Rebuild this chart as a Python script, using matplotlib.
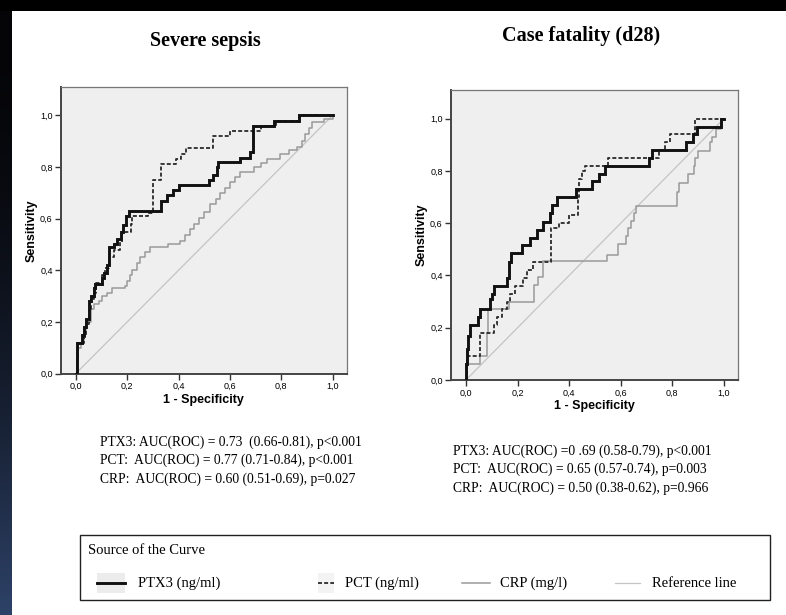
import matplotlib.pyplot as plt
import numpy as np
from matplotlib.lines import Line2D
from matplotlib.patches import Rectangle

# ROC curves, stored as the corners after each vertical step: (1 - specificity, sensitivity)
sepsis_ptx3_fpr = [0, 0.005, 0.024, 0.03, 0.04, 0.05, 0.06, 0.07, 0.075, 0.10, 0.11, 0.12, 0.13,
                   0.15, 0.16, 0.175, 0.185, 0.195, 0.205, 0.33, 0.355, 0.38, 0.40, 0.52, 0.535,
                   0.55, 0.555, 0.64, 0.68, 0.69, 0.77, 0.87, 1.0]
sepsis_ptx3_tpr = [0, 0.12, 0.15, 0.18, 0.21, 0.28, 0.30, 0.33, 0.345, 0.37, 0.39, 0.42, 0.49,
                   0.50, 0.52, 0.55, 0.575, 0.61, 0.63, 0.67, 0.69, 0.71, 0.73, 0.75, 0.77,
                   0.80, 0.82, 0.835, 0.86, 0.96, 0.98, 1.0, 1.0]

sepsis_pct_fpr = [0, 0.005, 0.01, 0.03, 0.04, 0.05, 0.06, 0.07, 0.08, 0.10, 0.115, 0.13, 0.15,
                  0.17, 0.18, 0.215, 0.22, 0.28, 0.30, 0.33, 0.39, 0.41, 0.43, 0.535, 0.60,
                  0.72, 0.78, 0.87, 1.0]
sepsis_pct_tpr = [0, 0.06, 0.12, 0.14, 0.19, 0.25, 0.29, 0.31, 0.35, 0.38, 0.41, 0.45, 0.48,
                  0.51, 0.55, 0.58, 0.61, 0.62, 0.75, 0.81, 0.83, 0.85, 0.875, 0.92, 0.94,
                  0.96, 0.98, 1.0, 1.0]

sepsis_crp_fpr = [0, 0.005, 0.02, 0.03, 0.04, 0.06, 0.07, 0.09, 0.10, 0.12, 0.14, 0.19, 0.20,
                  0.21, 0.22, 0.24, 0.25, 0.27, 0.29, 0.36, 0.407, 0.425, 0.445, 0.46, 0.478,
                  0.50, 0.524, 0.545, 0.563, 0.58, 0.602, 0.62, 0.641, 0.693, 0.72, 0.745,
                  0.797, 0.83, 0.861, 0.88, 0.894, 0.91, 0.92, 0.966, 1.0]
sepsis_crp_tpr = [0, 0.10, 0.12, 0.16, 0.20, 0.25, 0.27, 0.28, 0.30, 0.31, 0.33, 0.34, 0.36,
                  0.38, 0.40, 0.43, 0.45, 0.47, 0.49, 0.50, 0.515, 0.535, 0.558, 0.58, 0.604,
                  0.625, 0.655, 0.675, 0.698, 0.72, 0.74, 0.76, 0.78, 0.80, 0.815, 0.83,
                  0.85, 0.865, 0.876, 0.90, 0.928, 0.95, 0.973, 0.986, 1.0]

fatal_ptx3_fpr = [0, 0.002, 0.005, 0.008, 0.015, 0.048, 0.055, 0.094, 0.10, 0.11, 0.158, 0.165,
                  0.175, 0.216, 0.25, 0.275, 0.30, 0.325, 0.335, 0.355, 0.425, 0.49, 0.515,
                  0.54, 0.71, 0.72, 0.853, 0.88, 0.895, 0.99, 1.0]
fatal_ptx3_tpr = [0, 0.06, 0.12, 0.17, 0.21, 0.24, 0.27, 0.31, 0.33, 0.36, 0.39, 0.45,
                  0.485, 0.515, 0.545, 0.575, 0.605, 0.64, 0.67, 0.70, 0.73, 0.76, 0.79,
                  0.82, 0.85, 0.88, 0.91, 0.94, 0.97, 1.0, 1.0]

fatal_pct_fpr = [0, 0.005, 0.055, 0.11, 0.12, 0.14, 0.16, 0.17, 0.19, 0.22, 0.235, 0.26, 0.33,
                 0.36, 0.40, 0.435, 0.44, 0.45, 0.46, 0.55, 0.75, 0.77, 0.79, 0.89, 1.0]
fatal_pct_tpr = [0, 0.09, 0.18, 0.21, 0.24, 0.27, 0.30, 0.33, 0.36, 0.39, 0.42, 0.45, 0.58,
                 0.60, 0.63, 0.70, 0.77, 0.80, 0.82, 0.85, 0.88, 0.91, 0.94, 1.0, 1.0]

fatal_crp_fpr = [0, 0.005, 0.054, 0.08, 0.085, 0.165, 0.262, 0.28, 0.30, 0.548, 0.59, 0.62,
                 0.63, 0.64, 0.65, 0.66, 0.82, 0.825, 0.86, 0.885, 0.89, 0.90, 0.945, 0.955,
                 0.97, 0.99, 1.0]
fatal_crp_tpr = [0, 0.06, 0.09, 0.18, 0.27, 0.30, 0.364, 0.395, 0.456, 0.48, 0.52, 0.55,
                 0.58, 0.61, 0.64, 0.667, 0.72, 0.755, 0.79, 0.82, 0.85, 0.875, 0.91, 0.93,
                 0.96, 1.0, 1.0]

panel_titles = ['Severe sepsis', 'Case fatality (d28)']
auc_lines = [
    ['PTX3: AUC(ROC) = 0.73  (0.66-0.81), p<0.001',
     'PCT:  AUC(ROC) = 0.77 (0.71-0.84), p<0.001',
     'CRP:  AUC(ROC) = 0.60 (0.51-0.69), p=0.027'],
    ['PTX3: AUC(ROC) =0 .69 (0.58-0.79), p<0.001',
     'PCT:  AUC(ROC) = 0.65 (0.57-0.74), p=0.003',
     'CRP:  AUC(ROC) = 0.50 (0.38-0.62), p=0.966'],
]
legend_title = 'Source of the Curve'
legend_labels = ['PTX3 (ng/ml)', 'PCT (ng/ml)', 'CRP (mg/l)', 'Reference line']
ticks = [0, 0.2, 0.4, 0.6, 0.8, 1.0]
tick_labels = ['0,0', '0,2', '0,4', '0,6', '0,8', '1,0']

SERIF = 'Liberation Serif'
SANS = 'Liberation Sans'
W, H = 786, 615

ptx3_style = dict(color='#111111', lw=2.1, solid_joinstyle='miter')
pct_style = dict(color='#2a2a2a', lw=1.3, dashes=(2.2, 1.2))
crp_style = dict(color='#9a9a9a', lw=1.1)
ref_style = dict(color='#c4c4c4', lw=0.9)


def fx(px):
    return px / W


def fy(py):
    return 1 - py / H


fig = plt.figure(figsize=(W / 100, H / 100), dpi=100)
fig.patch.set_facecolor('white')

# dark page edge at the top and a shaded strip down the left side
fig.patches.append(Rectangle((0, fy(11)), 1, 11 / H, transform=fig.transFigure,
                             facecolor='black', edgecolor='none', zorder=0))
edge_ax = fig.add_axes([0, 0, fx(12), 1])
grad = np.linspace(0, 1, 256)
edge_cols = np.zeros((256, 1, 3))
edge_cols[:, 0, 0] = 0.02 + 0.16 * grad ** 2
edge_cols[:, 0, 1] = 0.02 + 0.24 * grad ** 2
edge_cols[:, 0, 2] = 0.03 + 0.38 * grad ** 2
edge_ax.imshow(edge_cols, aspect='auto', origin='upper')
edge_ax.set_axis_off()

panels = [
    dict(rect=[fx(61), fy(373.5), 285.7 / W, 286.5 / H],
         curves=[(sepsis_ptx3_fpr, sepsis_ptx3_tpr), (sepsis_pct_fpr, sepsis_pct_tpr),
                 (sepsis_crp_fpr, sepsis_crp_tpr)],
         title_xy=(205, 41), text_xy=(100, 442)),
    dict(rect=[fx(451), fy(380), 287 / W, 290 / H],
         curves=[(fatal_ptx3_fpr, fatal_ptx3_tpr), (fatal_pct_fpr, fatal_pct_tpr),
                 (fatal_crp_fpr, fatal_crp_tpr)],
         title_xy=(581, 36), text_xy=(453, 451)),
]

for i, p in enumerate(panels):
    ax = fig.add_axes(p['rect'])
    ax.set_facecolor('#efefef')
    ax.plot([0, 1], [0, 1], **ref_style, zorder=1)
    styles = [ptx3_style, pct_style, crp_style]
    order = [4, 3, 2]
    for (fpr, tpr), st, z in zip(p['curves'], styles, order):
        ax.plot(fpr, tpr, drawstyle='steps-post', zorder=z, **st)
    ax.set_xlim(-0.058, 1.055)
    ax.set_ylim(0, 1.11)
    ax.set_xticks(ticks)
    ax.set_yticks(ticks)
    ax.set_xticklabels(tick_labels, family=SANS, fontsize=6.5)
    ax.set_yticklabels(tick_labels, family=SANS, fontsize=6.5)
    ax.tick_params(length=4, width=1, color='#333333', pad=2)
    for side in ['left', 'bottom']:
        ax.spines[side].set_color('#444444')
        ax.spines[side].set_linewidth(1.4)
    for side in ['top', 'right']:
        ax.spines[side].set_color('#777777')
        ax.spines[side].set_linewidth(0.9)
    ax.set_xlabel('1 - Specificity', family=SANS, fontweight='bold', fontsize=9, labelpad=2)
    ax.set_ylabel('Sensitivity', family=SANS, fontweight='bold', fontsize=9, labelpad=2)

    tx, ty = p['title_xy']
    fig.text(fx(tx), fy(ty), panel_titles[i], family=SERIF,
             fontweight='bold', fontsize=14.5, ha='center', va='center')
    lx, ly = p['text_xy']
    for k, line in enumerate(auc_lines[i]):
        fig.text(fx(lx), fy(ly + k * 18.5), line, family=SERIF,
                 fontsize=9.8, ha='left', va='center')

# legend box drawn by hand so the entries sit where SPSS puts them
fig.patches.append(Rectangle((fx(80), fy(600)), 690 / W, 65 / H, transform=fig.transFigure,
                             facecolor='white', edgecolor='#222222', lw=1.0, zorder=1))
fig.text(fx(88), fy(554), legend_title, family=SERIF, fontsize=10.5, va='baseline', ha='left')
handle_spans = [(97, 125), (318, 334), (462, 490), (615, 640)]
swatch_bg = ['#ececec', '#f3f3f3', None, None]
label_x = [138, 345, 500, 652]
styles = [ptx3_style, pct_style, crp_style, ref_style]
for (x0, x1), bg, lx, st, lab in zip(handle_spans, swatch_bg, label_x, styles, legend_labels):
    if bg is not None:
        fig.patches.append(Rectangle((fx(x0), fy(593)), (x1 - x0) / W, 20 / H,
                                     transform=fig.transFigure, facecolor=bg,
                                     edgecolor='none', zorder=1.5))
    fig.add_artist(Line2D([fx(x0), fx(x1)], [fy(583), fy(583)], transform=fig.transFigure,
                          zorder=2, **st))
    fig.text(fx(lx), fy(587), lab, family=SERIF, fontsize=10.5, va='baseline', ha='left')

fig.savefig('out.png', dpi=100)
